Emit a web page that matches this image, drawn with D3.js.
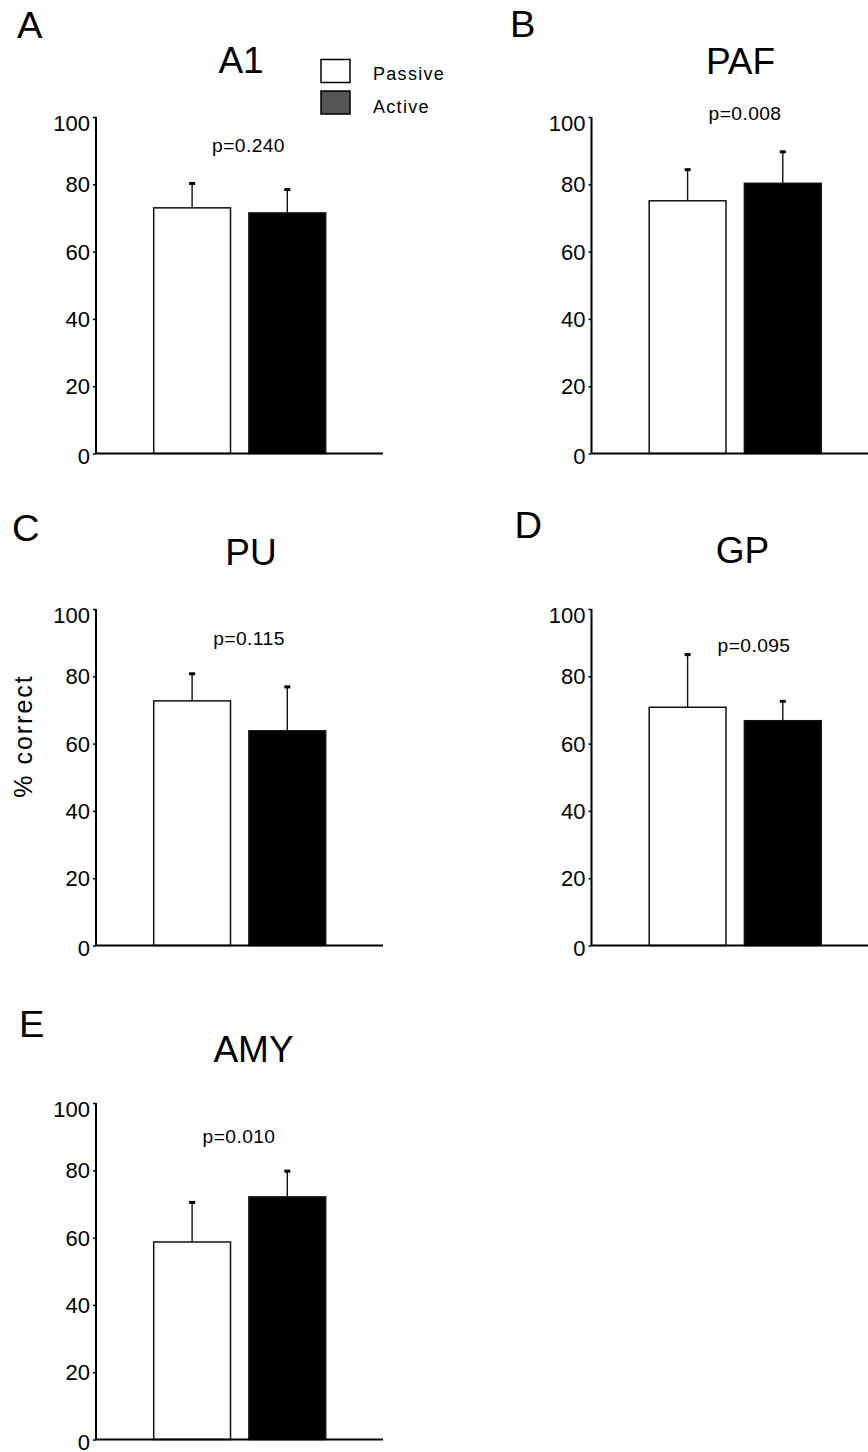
<!DOCTYPE html>
<html>
<head>
 <meta charset="UTF-8">
 <title>Passive vs Active</title>
 <script src="https://d3js.org/d3.v7.min.js"></script>
 <style>
  body { margin: 0; background: #fff; }
  text { font-family: "Liberation Sans", Arial, sans-serif; fill: #000; }
 </style>
</head>
<body>
<script type="text/javascript">
// data
var regions = ["A1", "PAF", "PU", "GP", "AMY"];
var letters = ["A", "B", "C", "D", "E"];
var conditions = ["Passive", "Active"];
var passiveMean = [73.0, 75.1, 72.7, 70.8, 58.7];
var passiveErr = [7.4, 9.4, 8.2, 15.8, 11.9];
var activeMean = [71.5, 80.3, 63.8, 66.8, 72.1];
var activeErr = [7.1, 9.5, 13.2, 5.9, 7.8];
var pValues = ["p=0.240", "p=0.008", "p=0.115", "p=0.095", "p=0.010"];
var yTicks = [0, 20, 40, 60, 80, 100];

// layout: axis origin (left, top), panel letter, title and p label positions
var layout = [
  {x: 96,    y: 117,  letter: [17, 38],     title: [241, 73],     p: [248.5, 152]},
  {x: 591.5, y: 117,  letter: [510, 37],    title: [740.5, 74],   p: [745, 120]},
  {x: 96,    y: 609,  letter: [12, 541],    title: [251, 565],    p: [249, 645]},
  {x: 591.5, y: 609,  letter: [514.5, 538], title: [742.5, 563],  p: [754, 651.5]},
  {x: 96,    y: 1103, letter: [19, 1036.5], title: [253.5, 1061.5], p: [239, 1143]}
];
var plotW = 287, plotH = 336.5;

var svg = d3.select("body").append("svg")
  .attr("width", 868)
  .attr("height", 1452);

function label(g, x, y, str, size, anchor, sx) {
  return g.append("text")
    .attr("transform", "translate(" + x + "," + y + ") scale(" + (sx || 1) + ",1)")
    .attr("text-anchor", anchor || "middle")
    .style("font-size", size + "px")
    .text(str);
}

var yScale = d3.scaleLinear().domain([0, 100]).range([plotH, 0]);
var xScale = d3.scaleBand().domain(conditions).range([57.7, 229.7]).paddingInner(0.193).paddingOuter(0);

function drawPanel(i) {
  var L = layout[i];
  var bars = [
    {cond: "Passive", mean: passiveMean[i], err: passiveErr[i]},
    {cond: "Active", mean: activeMean[i], err: activeErr[i]}
  ];

  label(svg, L.letter[0], L.letter[1], letters[i], 36, "start", 1.06);
  label(svg, L.title[0], L.title[1], regions[i], 37);
  label(svg, L.p[0], L.p[1], pValues[i], 18.5, "middle", 1.04).style("letter-spacing", "0.4px");

  var g = svg.append("g").attr("transform", "translate(" + L.x + "," + L.y + ")");

  // error bars first, bars drawn over them
  g.selectAll(".errline").data(bars).enter().append("line")
    .attr("x1", function (d) { return xScale(d.cond) + xScale.bandwidth() / 2; })
    .attr("x2", function (d) { return xScale(d.cond) + xScale.bandwidth() / 2; })
    .attr("y1", function (d) { return yScale(d.mean); })
    .attr("y2", function (d) { return yScale(d.mean + d.err); })
    .attr("stroke", "#111")
    .attr("stroke-width", 1.4);
  g.selectAll(".cap").data(bars).enter().append("rect")
    .attr("x", function (d) { return xScale(d.cond) + xScale.bandwidth() / 2 - 3; })
    .attr("y", function (d) { return yScale(d.mean + d.err) - 1; })
    .attr("width", 6)
    .attr("height", 3)
    .attr("fill", "#000");

  g.selectAll(".bar").data(bars).enter().append("rect")
    .attr("x", function (d) { return xScale(d.cond); })
    .attr("y", function (d) { return yScale(d.mean); })
    .attr("width", xScale.bandwidth())
    .attr("height", function (d) { return plotH - yScale(d.mean); })
    .attr("fill", function (d) { return d.cond == "Passive" ? "#fff" : "#000"; })
    .attr("stroke", "#111")
    .attr("stroke-width", 1.5);

  // axes
  var yAxis = g.append("g").call(d3.axisLeft(yScale).tickValues(yTicks).tickSize(3).tickPadding(4));
  yAxis.select(".domain").remove();
  yAxis.selectAll(".tick line").attr("stroke", "#000").attr("stroke-width", 1.5);
  yAxis.selectAll(".tick text")
    .style("font-size", "22px")
    .style("font-family", "'Liberation Sans', Arial, sans-serif")
    .attr("x", -6)
    .attr("dy", function (d) { return d == 100 ? "0.6em" : (d == 0 ? "0.45em" : "0.34em"); });
  g.append("line").attr("x1", 0).attr("x2", 0).attr("y1", 0).attr("y2", plotH)
    .attr("stroke", "#000").attr("stroke-width", 2);
  g.append("line").attr("x1", 0).attr("x2", plotW).attr("y1", plotH).attr("y2", plotH)
    .attr("stroke", "#000").attr("stroke-width", 2);
}

for (var i = 0; i < regions.length; i++) {
  drawPanel(i);
}

// y label on panel C
svg.append("text")
  .attr("transform", "translate(32,736) rotate(-90)")
  .attr("text-anchor", "middle")
  .style("font-size", "25px")
  .style("letter-spacing", "2px")
  .text("% correct");

// legend
var legendFill = ["#fff", "#555"];
var legend = svg.append("g");
legend.selectAll("rect").data(conditions).enter().append("rect")
  .attr("x", 321)
  .attr("y", function (d, i) { return 59.5 + i * 31.5; })
  .attr("width", 29)
  .attr("height", 23)
  .attr("fill", function (d, i) { return legendFill[i]; })
  .attr("stroke", "#000")
  .attr("stroke-width", 1.5);
conditions.forEach(function (c, i) {
  label(legend, 373, 80 + i * 32.5, c, 18, "start").style("letter-spacing", "1.3px");
});
</script>
</body>
</html>
